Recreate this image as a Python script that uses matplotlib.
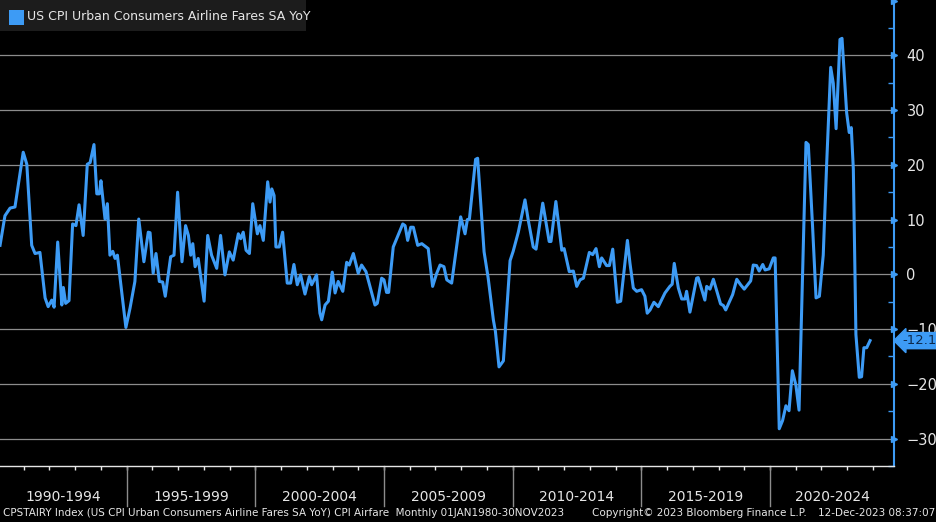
import numpy as np
import matplotlib
matplotlib.use("Agg")
import matplotlib.pyplot as plt
import matplotlib.transforms as mtransforms
from matplotlib.patches import Rectangle

# turning points (decimal year, YoY %)
years = [1990.08, 1990.27, 1990.47, 1990.66, 1990.98, 1991.12, 1991.31, 1991.44, 1991.63, 1991.83,
         1991.95, 1992.09, 1992.18, 1992.32, 1992.48, 1992.54, 1992.63, 1992.76, 1992.90, 1993.03,
         1993.15, 1993.31, 1993.47, 1993.58, 1993.73, 1993.84, 1993.94, 1994.00, 1994.16, 1994.25,
         1994.35, 1994.46, 1994.55, 1994.64, 1994.97, 1995.13, 1995.32, 1995.47, 1995.67, 1995.84,
         1995.91, 1996.03, 1996.14, 1996.27, 1996.40, 1996.50, 1996.71, 1996.84, 1996.98, 1997.15,
         1997.29, 1997.40, 1997.49, 1997.57, 1997.66, 1997.78, 1998.01, 1998.15, 1998.30, 1998.50,
         1998.65, 1998.82, 1998.99, 1999.14, 1999.34, 1999.43, 1999.53, 1999.64, 1999.77, 1999.90,
         2000.08, 2000.18, 2000.31, 2000.48, 2000.57, 2000.64, 2000.73, 2000.80, 2000.93, 2001.06,
         2001.24, 2001.37, 2001.50, 2001.63, 2001.76, 2001.93, 2002.10, 2002.19, 2002.38, 2002.51,
         2002.58, 2002.71, 2002.84, 2002.99, 2003.10, 2003.22, 2003.40, 2003.55, 2003.65, 2003.81,
         2004.00, 2004.13, 2004.30, 2004.65, 2004.74, 2004.91, 2005.00, 2005.10, 2005.18, 2005.36,
         2005.73, 2005.82, 2005.92, 2006.04, 2006.14, 2006.31, 2006.47, 2006.72, 2006.89, 2007.05,
         2007.18, 2007.33, 2007.44, 2007.63, 2007.98, 2008.15, 2008.24, 2008.32, 2008.56, 2008.64,
         2008.89, 2009.05, 2009.25, 2009.33, 2009.47, 2009.64, 2009.90, 2010.02, 2010.22, 2010.48,
         2010.61, 2010.80, 2010.91, 2011.17, 2011.42, 2011.49, 2011.68, 2011.91, 2012.00, 2012.20,
         2012.36, 2012.49, 2012.62, 2012.75, 2012.98, 2013.11, 2013.24, 2013.37, 2013.46, 2013.65,
         2013.76, 2013.89, 2014.07, 2014.20, 2014.46, 2014.56, 2014.69, 2014.82, 2015.01, 2015.14,
         2015.23, 2015.34, 2015.49, 2015.66, 2015.92, 2016.11, 2016.20, 2016.28, 2016.44, 2016.57,
         2016.70, 2016.76, 2016.89, 2017.15, 2017.21, 2017.47, 2017.54, 2017.67, 2017.80, 2018.08,
         2018.19, 2018.28, 2018.55, 2018.71, 2018.86, 2019.00, 2019.25, 2019.35, 2019.48, 2019.58,
         2019.72, 2019.81, 2019.97, 2020.13, 2020.20, 2020.36, 2020.49, 2020.62, 2020.74, 2020.87,
         2021.01, 2021.13, 2021.40, 2021.49, 2021.66, 2021.79, 2021.92, 2022.07, 2022.20, 2022.36,
         2022.46, 2022.57, 2022.72, 2022.80, 2022.98, 2023.08, 2023.16, 2023.24, 2023.34, 2023.47,
         2023.56, 2023.65, 2023.76, 2023.89]
yoy = [5.3, 10.7, 12.1, 12.3, 22.3, 20.1, 5.3, 3.8, 4.0, -4.3,
       -5.9, -4.7, -6.0, 5.9, -5.6, -2.4, -5.3, -4.8, 9.2, 8.9,
       12.7, 7.1, 20.1, 20.4, 23.7, 14.7, 14.7, 17.1, 10.1, 12.9,
       3.5, 4.2, 2.9, 3.5, -9.7, -6.2, -1.3, 10.1, 2.3, 7.7,
       7.6, 0.2, 3.8, -1.3, -1.4, -4.0, 3.2, 3.5, 15.0, 2.3,
       8.9, 7.1, 3.5, 5.6, 1.4, 2.9, -4.9, 7.1, 3.5, 1.1,
       7.1, -0.1, 4.1, 2.6, 7.4, 6.5, 7.7, 4.4, 3.8, 12.9,
       7.4, 8.9, 6.2, 16.9, 13.2, 15.6, 14.4, 5.0, 5.0, 7.7,
       -1.6, -1.6, 1.8, -1.9, -0.1, -3.6, -0.4, -1.9, -0.1, -7.1,
       -8.3, -5.6, -4.9, 0.4, -3.4, -1.3, -3.1, 2.2, 1.7, 3.8,
       0.2, 1.7, 0.5, -5.6, -5.3, -0.7, -1.0, -3.3, -3.3, 5.0,
       9.2, 8.9, 6.2, 8.6, 8.6, 5.3, 5.6, 4.7, -2.2, 0.2,
       1.7, 1.4, -1.0, -1.6, 10.5, 7.4, 10.0, 10.1, 21.0, 21.2,
       4.1, -0.7, -8.3, -10.4, -16.9, -15.8, 2.5, 4.2, 7.7, 13.6,
       9.8, 5.0, 4.6, 13.0, 6.0, 6.0, 13.3, 4.4, 4.7, 0.5,
       0.6, -2.2, -1.0, -0.7, 4.0, 3.6, 4.7, 1.4, 3.0, 1.6,
       1.6, 4.6, -5.1, -4.9, 6.2, 2.0, -2.5, -3.1, -2.8, -4.0,
       -7.1, -6.5, -5.1, -5.9, -3.4, -2.2, -1.8, 2.0, -2.5, -4.5,
       -4.5, -3.1, -6.9, -0.7, -0.6, -4.7, -2.2, -2.7, -0.9, -5.4,
       -5.7, -6.5, -3.7, -0.9, -1.9, -2.7, -1.2, 1.7, 1.6, 0.6,
       1.8, 0.8, 1.0, 3.0, 3.0, -28.2, -26.7, -24.0, -24.9, -17.6,
       -20.3, -24.8, 24.1, 23.7, 8.3, -4.3, -4.0, 3.5, 19.8, 37.8,
       34.9, 26.6, 42.9, 43.1, 29.5, 25.9, 26.8, 19.2, -11.0, -18.8,
       -18.7, -13.4, -13.4, -12.1]

period_labels = ["1990-1994", "1995-1999", "2000-2004", "2005-2009",
                 "2010-2014", "2015-2019", "2020-2024"]
period_starts = [1990, 1995, 2000, 2005, 2010, 2015, 2020]
last_value = -12.1

blue = "#3d9bf5"
fg = "#e6e6e6"
W, H = 937, 522

plt.rcParams["font.family"] = ["DejaVu Sans"]
fig = plt.figure(figsize=(W / 100, H / 100), dpi=100, facecolor="black")
ax = fig.add_axes([0, 56 / H, 894 / W, 466 / H])
ax.set_facecolor("black")

ax.plot(years, yoy, color=blue, lw=2.2, solid_joinstyle="round", zorder=3)

x0, x1 = 1990.078, 2024.82
ax.set_xlim(x0, x1)
ax.set_ylim(-34.3, 50.1)

# right axis
ax.yaxis.tick_right()
major = np.arange(-30, 50, 10)
ax.set_yticks(major)
ax.set_yticks(np.arange(-35, 50, 5), minor=True)
ax.tick_params(axis="y", which="major", colors=blue, length=0, labelcolor=fg,
               labelsize=10.5, pad=9)
ax.tick_params(axis="y", which="minor", colors=blue, length=4, width=1, direction="in")
ax.grid(axis="y", which="major", color="#8c8c8c", lw=0.9, zorder=1)
ytrans = mtransforms.blended_transform_factory(ax.transAxes, ax.transData)
arrows = np.arange(-30, 60, 10)
ax.plot(np.ones(len(arrows)), arrows, ls="none", marker=">", ms=5, color=blue,
        transform=ytrans, clip_on=False, zorder=4)

for s in ["left", "top"]:
    ax.spines[s].set_visible(False)
ax.spines["right"].set_color(blue)
ax.spines["right"].set_linewidth(1.5)
ax.spines["bottom"].set_color(fg)
ax.spines["bottom"].set_linewidth(1)

# bottom axis: yearly ticks, 5-year groups
ax.set_xticks(np.arange(1991, 2025, 1))
ax.set_xticklabels([])
ax.tick_params(axis="x", which="major", colors=fg, length=3, width=1, direction="out")

trans = mtransforms.blended_transform_factory(ax.transData, ax.transAxes)
for i, (start, lab) in enumerate(zip(period_starts, period_labels)):
    end = period_starts[i + 1] if i + 1 < len(period_starts) else x1
    left = max(start, x0)
    ax.text((left + end) / 2, -0.066, lab, transform=trans, ha="center", va="center",
            color=fg, fontsize=10)
    if start > x0:
        ax.plot([start, start], [0, -0.085], transform=trans, color="#8c8c8c",
                lw=1, clip_on=False)

# last value marker
ax.annotate(f"{last_value}", xy=(1.0, last_value), xycoords=ytrans,
            xytext=(6, 0), textcoords="offset points", ha="left", va="center",
            color="#0d2a4d", fontsize=9.5, zorder=6,
            bbox=dict(boxstyle="larrow,pad=0.12", fc=blue, ec=blue))

# legend box
fig.patches.append(Rectangle((0, 1 - 31 / H), 306 / W, 31 / H, transform=fig.transFigure,
                             fc="#1c1c1c", ec="none", zorder=5))
fig.patches.append(Rectangle((9 / W, 1 - 25 / H), 15 / W, 15 / H, transform=fig.transFigure,
                             fc=blue, ec="none", zorder=6))
fig.text(27 / W, 1 - 17 / H, "US CPI Urban Consumers Airline Fares SA YoY", color=fg,
         fontsize=9, va="center", ha="left", zorder=7)

# footer
fy = 1 - 513 / H
fig.text(3 / W, fy, "CPSTAIRY Index (US CPI Urban Consumers Airline Fares SA YoY) CPI Airfare  "
         "Monthly 01JAN1980-30NOV2023", color=fg, fontsize=7.5, va="center", ha="left")
fig.text(592 / W, fy, "Copyright\u00a9 2023 Bloomberg Finance L.P.", color=fg, fontsize=7.5,
         va="center", ha="left")
fig.text(935 / W, fy, "12-Dec-2023 08:37:07", color=fg, fontsize=7.5, va="center", ha="right")

fig.savefig("out.png", dpi=100, facecolor="black")
